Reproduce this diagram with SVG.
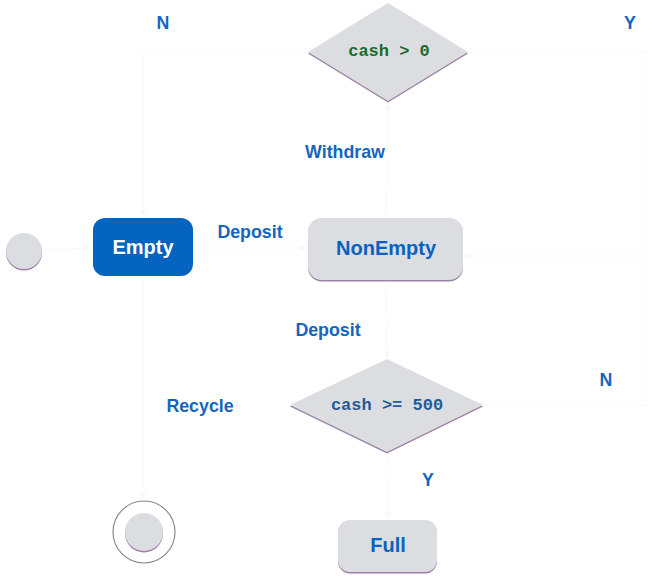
<svg xmlns="http://www.w3.org/2000/svg" width="652" height="576" viewBox="0 0 652 576">
<defs>
<style>
.sh{fill:#9c82a6}
.nd{fill:#dcdde0}
.lbl{font-family:"Liberation Sans",Arial,sans-serif;font-weight:bold;font-size:17.8px;fill:#1565c0;text-anchor:middle;dominant-baseline:central}
.st{font-family:"Liberation Sans",Arial,sans-serif;font-weight:bold;font-size:20px;text-anchor:middle;dominant-baseline:central}
.cd{font-family:"Liberation Mono","Courier New",monospace;font-weight:bold;font-size:17px;text-anchor:middle;dominant-baseline:central}
.edge{fill:none;stroke:#f9f9f9;stroke-width:1}
</style>
<marker id="ah" viewBox="0 0 10 10" refX="10" refY="5" markerWidth="7" markerHeight="7" orient="auto">
<path d="M0,0 L10,5 L0,10 z" fill="#f8f8f8"/>
</marker>
</defs>
<rect width="652" height="576" fill="#ffffff"/>
<g id="connectors">
<path class="edge" d="M42,250 L92,248" marker-end="url(#ah)"/>
<path class="edge" d="M193,248 L307,248" marker-end="url(#ah)"/>
<path class="edge" d="M386,218 L388,102" marker-end="url(#ah)"/>
<path class="edge" d="M308,52 L143,52 L143,217" marker-end="url(#ah)"/>
<path class="edge" d="M468,52 L648,52 L648,256 L464,256" marker-end="url(#ah)"/>
<path class="edge" d="M386,280 L387,358" marker-end="url(#ah)"/>
<path class="edge" d="M483,405 L648,405 L648,256"/>
<path class="edge" d="M387,452 L388,519" marker-end="url(#ah)"/>
<path class="edge" d="M143,276 L143,500" marker-end="url(#ah)"/>
</g>
<g id="labels">
<text class="lbl" x="163" y="23">N</text>
<text class="lbl" x="630" y="23">Y</text>
<text class="lbl" x="345" y="152">Withdraw</text>
<text class="lbl" x="250" y="232">Deposit</text>
<text class="lbl" x="328" y="330">Deposit</text>
<text class="lbl" x="200" y="406">Recycle</text>
<text class="lbl" x="606" y="380">N</text>
<text class="lbl" x="428" y="480">Y</text>
</g>
<g id="start">
<circle class="sh" cx="24" cy="252.5" r="18"/>
<circle class="nd" cx="24" cy="251" r="18"/>
</g>
<g id="cash_gt_0">
<polygon class="sh" points="388,4.5 468,53.5 388,102.5 308,53.5"/>
<polygon class="nd" points="388,3 468,52 388,101 308,52"/>
<text class="cd" x="389" y="51" fill="#1b6b2b">cash &gt; 0</text>
</g>
<g id="Empty">
<rect x="93" y="218" width="100" height="58" rx="12" fill="#0564c0"/>
<text class="st" x="143" y="247" fill="#ffffff">Empty</text>
</g>
<g id="NonEmpty">
<rect class="sh" x="308" y="219.5" width="155" height="62" rx="14"/>
<rect class="nd" x="308" y="218" width="155" height="62" rx="14"/>
<text class="st" x="386" y="248" fill="#0a62c0">NonEmpty</text>
</g>
<g id="cash_ge_500">
<polygon class="sh" points="387,360.5 483,406.5 387,453.5 290,406.5"/>
<polygon class="nd" points="387,359 483,405 387,452 290,405"/>
<text class="cd" x="387" y="405" fill="#1f5b98">cash &gt;= 500</text>
</g>
<g id="Full">
<rect class="sh" x="338" y="521.5" width="99" height="52" rx="12"/>
<rect class="nd" x="338" y="520" width="99" height="52" rx="12"/>
<text class="st" x="388" y="545" fill="#0a62c0">Full</text>
</g>
<g id="final">
<circle cx="144" cy="532" r="31" fill="#ffffff" stroke="#8a8a8a" stroke-width="1.2"/>
<circle class="sh" cx="144" cy="533.5" r="19"/>
<circle class="nd" cx="144" cy="532" r="19"/>
</g>
</svg>
